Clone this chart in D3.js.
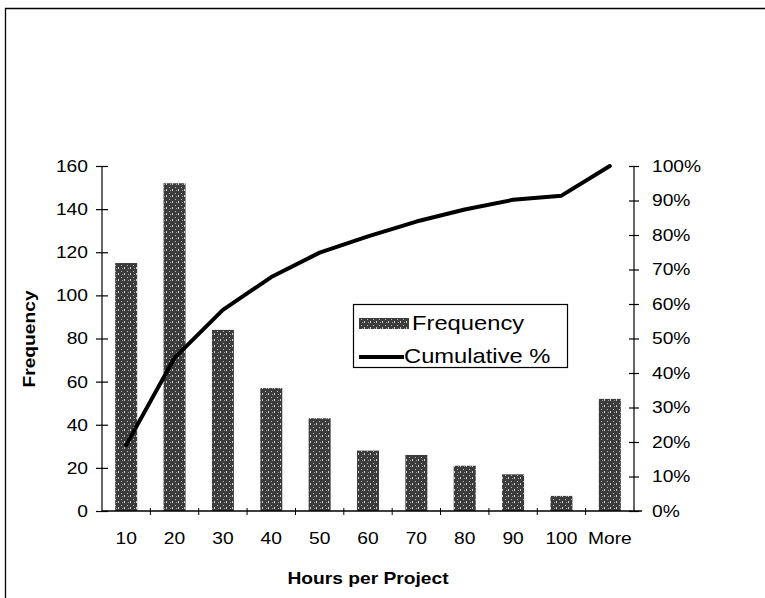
<!DOCTYPE html>
<html><head><meta charset="utf-8">
<script src="https://cdn.jsdelivr.net/npm/d3@7"></script>
<style>
body{margin:0;background:#fff;}
svg{display:block;font-family:"Liberation Sans",Arial,sans-serif;}
</style></head>
<body><svg id="c" width="765" height="598"></svg>
<script>
const categories = ["10","20","30","40","50","60","70","80","90","100","More"];
const frequency = [115,152,84,57,43,28,26,21,17,7,52];
const cumulative = [0.191,0.444,0.583,0.678,0.749,0.796,0.839,0.874,0.902,0.914,1.0];
const leftTicks = [0,20,40,60,80,100,120,140,160];
const rightTicks = [0,0.1,0.2,0.3,0.4,0.5,0.6,0.7,0.8,0.9,1.0];

const svg = d3.select("#c");
const L = 102, R = 634, T = 166, B = 511;

// outer frame (top and left edges)
svg.append("path").attr("d","M5.5,598V8.5H765").attr("fill","none").attr("stroke","#000").attr("stroke-width",1.3);

const x = d3.scaleBand().domain(categories).range([L,R]).paddingInner(0.545).paddingOuter(0.2725);
const yL = d3.scaleLinear().domain([0,160]).range([B,T]);
const yR = d3.scaleLinear().domain([0,1]).range([B,T]);

// texture pattern for bars
const defs = svg.append("defs");
const pat = defs.append("pattern").attr("id","tex").attr("width",6).attr("height",6).attr("patternUnits","userSpaceOnUse");
pat.append("rect").attr("width",6).attr("height",6).attr("fill","#3c3c3c");
pat.append("rect").attr("x",1).attr("y",1).attr("width",1).attr("height",1).attr("fill","#bbb");
pat.append("rect").attr("x",4).attr("y",3).attr("width",1).attr("height",2).attr("fill","#ccc");
pat.append("rect").attr("x",2).attr("y",4).attr("width",1).attr("height",1).attr("fill","#999");

// bars
svg.append("g").selectAll("rect").data(frequency).join("rect")
  .attr("x",(d,i)=>x(categories[i]))
  .attr("width",x.bandwidth())
  .attr("y",d=>yL(d))
  .attr("height",d=>B-yL(d))
  .attr("fill","url(#tex)");

// left axis
const gl = svg.append("g").attr("transform",`translate(${L},0)`)
  .call(d3.axisLeft(yL).tickValues(leftTicks).tickSize(6).tickPadding(8));
gl.selectAll(".tick line").attr("x1",6).attr("x2",-6).attr("stroke-width",1.2);
gl.select(".domain").attr("d",`M0,${T}V${B}`).attr("stroke-width",1.2);
gl.selectAll("text").attr("font-size",17).attr("x",-14).classed("st",true);

// right axis
const gr = svg.append("g").attr("transform",`translate(${R},0)`)
  .call(d3.axisRight(yR).tickValues(rightTicks).tickFormat(d3.format(".0%")).tickSize(6).tickPadding(8));
gr.selectAll(".tick line").attr("x1",-5).attr("x2",5).attr("stroke-width",1.2);
gr.select(".domain").attr("d",`M0,${T}V${B}`).attr("stroke-width",1.2);
gr.selectAll("text").attr("font-size",17).attr("x",18).classed("st",true);

// bottom axis
const gb = svg.append("g").attr("transform",`translate(0,${B})`)
  .call(d3.axisBottom(x).tickSize(0).tickPadding(21));
gb.select(".domain").attr("d",`M${L},0H${R+8}`).attr("stroke-width",1.5);
gb.selectAll("text").attr("font-size",17).classed("st",true);
const step = x.step();
gb.append("g").selectAll("line").data(categories.slice(1)).join("line")
  .attr("x1",d=>x(d)-x.paddingInner()*step/2).attr("x2",d=>x(d)-x.paddingInner()*step/2)
  .attr("y1",-3).attr("y2",4).attr("stroke","#000");

// cumulative line
const line = d3.line().x((d,i)=>x(categories[i])+x.bandwidth()/2).y(d=>yR(d));
svg.append("path").datum(cumulative).attr("d",line).attr("fill","none")
  .attr("stroke","#000").attr("stroke-width",4).attr("stroke-linejoin","round").attr("stroke-linecap","round");

// axis titles
svg.append("text").attr("transform","translate(35,339) rotate(-90)").attr("text-anchor","middle")
  .attr("font-size",17).attr("font-weight","bold").classed("st",true).text("Frequency");
svg.append("text").attr("x",(L+R)/2).attr("y",584).attr("text-anchor","middle")
  .attr("font-size",17).attr("font-weight","bold").classed("st",true).text("Hours per Project");

// legend
const lg = svg.append("g");
lg.append("rect").attr("x",353.5).attr("y",304.5).attr("width",214).attr("height",63)
  .attr("fill","#fff").attr("stroke","#000").attr("stroke-width",1.2);
lg.append("rect").attr("x",359).attr("y",318).attr("width",50).attr("height",11).attr("fill","url(#tex)");
lg.append("text").attr("x",412).attr("y",330).attr("font-size",21).classed("st",true).text("Frequency");
lg.append("line").attr("x1",359).attr("x2",404).attr("y1",357).attr("y2",357).attr("stroke","#000").attr("stroke-width",4);
lg.append("text").attr("x",404).attr("y",363).attr("font-size",21).classed("st",true).text("Cumulative %");

// the scanned text runs are wider than the font's natural width
svg.selectAll("text.st").each(function(){
  const len = this.getComputedTextLength();
  d3.select(this).attr("textLength",len*1.13).attr("lengthAdjust","spacingAndGlyphs");
});
</script></body></html>
